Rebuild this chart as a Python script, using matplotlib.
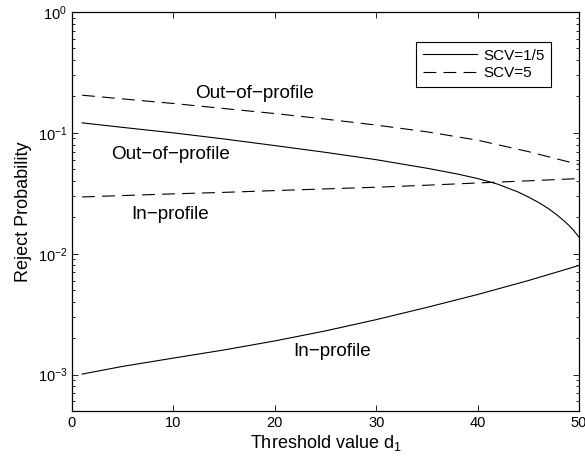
import numpy as np
import matplotlib
matplotlib.use('Agg')
import matplotlib.pyplot as plt

plt.rcParams['font.family'] = ['Liberation Sans', 'DejaVu Sans']
plt.rcParams['mathtext.fontset'] = 'custom'
plt.rcParams['mathtext.rm'] = 'Liberation Sans'
plt.rcParams['mathtext.it'] = 'Liberation Sans:italic'
plt.rcParams['axes.unicode_minus'] = True

# threshold values d1
d_coarse = [1, 5, 10, 15, 20, 25, 30, 35, 40, 45, 50]
d_fine = [1, 5, 10, 15, 20, 25, 30, 35, 38, 40, 42, 44, 45, 46, 47, 48, 49, 49.5, 50]

# SCV = 1/5 (solid)
out_scv_low = [0.121, 0.111, 0.100, 0.089, 0.0785, 0.069, 0.060, 0.051, 0.0457, 0.0419,
               0.0376, 0.0324, 0.0295, 0.0266, 0.0236, 0.0204, 0.0172, 0.0155, 0.0137]
in_scv_low = [0.00101, 0.00117, 0.00137, 0.00160, 0.00190, 0.00230, 0.00285, 0.00360,
              0.00460, 0.00600, 0.0080]

# SCV = 5 (dashed)
out_scv_high = [0.205, 0.191, 0.175, 0.159, 0.1445, 0.130, 0.116, 0.102, 0.087, 0.070, 0.0547]
in_scv_high = [0.0295, 0.0303, 0.0313, 0.0322, 0.0333, 0.0344, 0.0355, 0.0369, 0.0385, 0.0401, 0.0419]

fig = plt.figure(figsize=(5.85, 4.63), dpi=100, facecolor='w')
ax = fig.add_axes([72 / 585, 52 / 463, 507 / 585, 399 / 463])

lw = 0.8
dash = (11.5, 6.5)
ax.semilogy(d_fine, out_scv_low, color='k', ls='-', lw=lw, label='SCV=1/5')
ax.semilogy(d_coarse, out_scv_high, color='k', ls='--', dashes=dash, lw=lw, label='SCV=5')
ax.semilogy(d_coarse, in_scv_low, color='k', ls='-', lw=lw)
ax.semilogy(d_coarse, in_scv_high, color='k', ls='--', dashes=dash, lw=lw)

ax.set_xlim(0, 50)
ax.set_ylim(5e-4, 1)
ax.set_xticks([0, 10, 20, 30, 40, 50])

fs_txt = 13.6
ax.text(12.1, 0.213, 'Out\u2212of\u2212profile', fontsize=fs_txt, va='center', ha='left')
ax.text(3.9, 0.0666, 'Out\u2212of\u2212profile', fontsize=fs_txt, va='center', ha='left')
ax.text(5.8, 0.0211, 'In\u2212profile', fontsize=fs_txt, va='center', ha='left')
ax.text(21.85, 0.00156, 'In\u2212profile', fontsize=fs_txt, va='center', ha='left')

ax.set_xlabel('Threshold value d$_{1}$', fontsize=13, labelpad=2)
ax.set_ylabel('Reject Probability', fontsize=13, labelpad=4)

ax.tick_params(which='both', direction='in', top=True, right=True, labelsize=10.5, width=0.6)
ax.tick_params(which='major', length=4)
ax.tick_params(which='minor', length=2.2)
ax.tick_params(axis='x', which='minor', bottom=False, top=False)
for sp in ax.spines.values():
    sp.set_linewidth(0.9)

leg = ax.legend(loc='upper right', bbox_to_anchor=(0.945, 0.925), borderaxespad=0,
                fontsize=11, fancybox=False, framealpha=1, edgecolor='k',
                handlelength=3.5, borderpad=0.45, labelspacing=0.2, handletextpad=0.4)
leg.get_frame().set_linewidth(0.8)

plt.savefig('out.png', dpi=100)
